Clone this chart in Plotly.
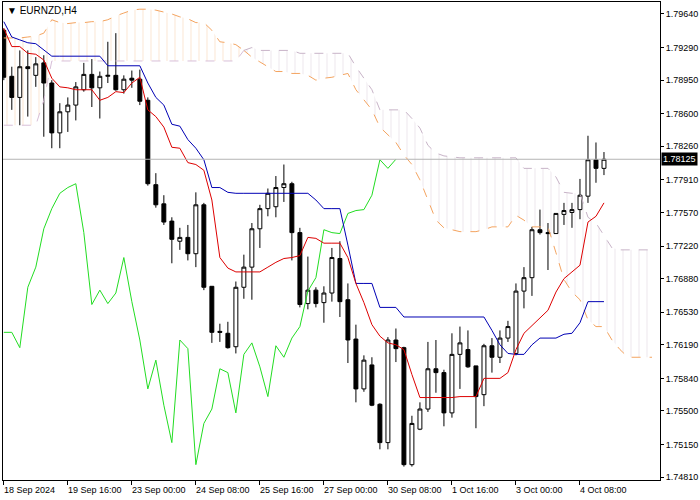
import plotly.graph_objects as go

# H4 bars, oldest first (bar index on x)
opens = [1.7947, 1.7899, 1.7877, 1.7909, 1.7900, 1.7913, 1.7892, 1.7840, 1.7862, 1.7869,
         1.7885, 1.7901, 1.7887, 1.7899, 1.7900, 1.7885, 1.7897, 1.7896, 1.7874, 1.7786,
         1.7766, 1.7748, 1.7727, 1.7731, 1.7714, 1.7765, 1.7680, 1.7633, 1.7631, 1.7617,
         1.7679, 1.7700, 1.7740, 1.7761, 1.7763, 1.7783, 1.7787, 1.7736, 1.7662, 1.7676,
         1.7663, 1.7673, 1.7709, 1.7666, 1.7625, 1.7573, 1.7598, 1.7557, 1.7517, 1.7624,
         1.7616, 1.7494, 1.7531, 1.7552, 1.7594, 1.7590, 1.7548, 1.7609, 1.7614, 1.7597,
         1.7567, 1.7618, 1.7606, 1.7626, 1.7610, 1.7675, 1.7689, 1.7739, 1.7736, 1.7735,
         1.7755, 1.7757, 1.7760, 1.7774, 1.7812, 1.7803]
highs = [1.7949, 1.7909, 1.7926, 1.7926, 1.7919, 1.7921, 1.7895, 1.7871, 1.7877, 1.7893,
         1.7913, 1.7917, 1.7904, 1.7935, 1.7944, 1.7900, 1.7905, 1.7906, 1.7877, 1.7798,
         1.7775, 1.7752, 1.7741, 1.7744, 1.7778, 1.7767, 1.7680, 1.7641, 1.7643, 1.7685,
         1.7713, 1.7746, 1.7765, 1.7782, 1.7795, 1.7807, 1.7789, 1.7741, 1.7711, 1.7679,
         1.7680, 1.7720, 1.7727, 1.7683, 1.7640, 1.7608, 1.7606, 1.7558, 1.7627, 1.7636,
         1.7617, 1.7545, 1.7559, 1.7622, 1.7624, 1.7593, 1.7631, 1.7638, 1.7634, 1.7597,
         1.7620, 1.7626, 1.7634, 1.7644, 1.7683, 1.7700, 1.7742, 1.7760, 1.7746, 1.7756,
         1.7767, 1.7767, 1.7792, 1.7837, 1.7830, 1.7820]
lows = [1.7895, 1.7864, 1.7848, 1.7857, 1.7888, 1.7836, 1.7824, 1.7824, 1.7841, 1.7853,
        1.7883, 1.7867, 1.7855, 1.7892, 1.7884, 1.7881, 1.7887, 1.7869, 1.7785, 1.7762,
        1.7744, 1.7704, 1.7718, 1.7707, 1.7700, 1.7676, 1.7621, 1.7622, 1.7615, 1.7610,
        1.7667, 1.7666, 1.7720, 1.7753, 1.7752, 1.7768, 1.7707, 1.7658, 1.7656, 1.7658,
        1.7642, 1.7664, 1.7648, 1.7600, 1.7559, 1.7570, 1.7555, 1.7510, 1.7510, 1.7601,
        1.7492, 1.7492, 1.7530, 1.7549, 1.7569, 1.7534, 1.7543, 1.7573, 1.7595, 1.7532,
        1.7555, 1.7590, 1.7600, 1.7622, 1.7608, 1.7657, 1.7670, 1.7734, 1.7697, 1.7735,
        1.7744, 1.7741, 1.7750, 1.7767, 1.7788, 1.7796]
closes = [1.7898, 1.7877, 1.7909, 1.7907, 1.7912, 1.7892, 1.7840, 1.7862, 1.7869, 1.7888,
          1.7901, 1.7887, 1.7899, 1.7900, 1.7885, 1.7896, 1.7895, 1.7873, 1.7787, 1.7765,
          1.7747, 1.7729, 1.7731, 1.7714, 1.7765, 1.7679, 1.7632, 1.7632, 1.7616, 1.7679,
          1.7700, 1.7740, 1.7761, 1.7777, 1.7783, 1.7787, 1.7736, 1.7661, 1.7676, 1.7662,
          1.7673, 1.7710, 1.7664, 1.7624, 1.7573, 1.7603, 1.7556, 1.7517, 1.7624, 1.7615,
          1.7494, 1.7537, 1.7552, 1.7594, 1.7590, 1.7548, 1.7609, 1.7621, 1.7596, 1.7565,
          1.7618, 1.7606, 1.7626, 1.7638, 1.7675, 1.7689, 1.7739, 1.7736, 1.7735, 1.7756,
          1.7759, 1.7760, 1.7775, 1.7812, 1.7803, 1.78125]

tenkan = [1.7949, 1.7930, 1.7930, 1.7923, 1.7922, 1.7916, 1.7897, 1.7888, 1.7887, 1.7885,
          1.7885, 1.7885, 1.7874, 1.7877, 1.7883, 1.7882, 1.7892, 1.7898, 1.7864, 1.7857,
          1.7846, 1.7825, 1.7824, 1.7809, 1.7807, 1.7801, 1.7770, 1.7710, 1.7699, 1.7695,
          1.7695, 1.7695, 1.7695, 1.7700, 1.7705, 1.7709, 1.7710, 1.7712, 1.7731, 1.7730,
          1.7725, 1.7725, 1.7725, 1.7710, 1.7683, 1.7663, 1.7640, 1.7628, 1.7621, 1.7619,
          1.7614, 1.7588, 1.7564, 1.7564, 1.7564, 1.7564, 1.7564, 1.7565, 1.7565, 1.7565,
          1.7584, 1.7584, 1.7584, 1.7590, 1.7614, 1.7631, 1.7639, 1.7647, 1.7655, 1.7674,
          1.7688, 1.7695, 1.7702, 1.7747, 1.7753, 1.7767]
kijun = [1.7956, 1.7940, 1.7937, 1.7934, 1.7933, 1.7926, 1.7920, 1.7920, 1.7920, 1.7920,
         1.7920, 1.7920, 1.7920, 1.7910, 1.7910, 1.7910, 1.7910, 1.7910, 1.7892, 1.7877,
         1.7869, 1.7849, 1.7847, 1.7833, 1.7824, 1.7812, 1.7783, 1.7783, 1.7778, 1.7777,
         1.7777, 1.7777, 1.7777, 1.7777, 1.7777, 1.7777, 1.7777, 1.7777, 1.7777, 1.7770,
         1.7761, 1.7761, 1.7761, 1.7723, 1.7683, 1.7683, 1.7683, 1.7658, 1.7658, 1.7658,
         1.7648, 1.7648, 1.7648, 1.7648, 1.7648, 1.7648, 1.7648, 1.7648, 1.7648, 1.7648,
         1.7648, 1.7634, 1.7619, 1.7610, 1.7609, 1.7609, 1.7619, 1.7626, 1.7626, 1.7626,
         1.7630, 1.7631, 1.7642, 1.7664, 1.7664, 1.7664]
span_a = [1.7939, 1.7939, 1.7939, 1.7940, 1.7941, 1.7944, 1.7958, 1.7955, 1.7954, 1.7955,
          1.7955, 1.7956, 1.7956, 1.7958, 1.7962, 1.7965, 1.7968, 1.7969, 1.7969, 1.7968,
          1.7966, 1.7964, 1.7961, 1.7959, 1.7955, 1.7955, 1.7947, 1.7935, 1.7934, 1.7932,
          1.7926, 1.7919, 1.7914, 1.7909, 1.7904, 1.7904, 1.7902, 1.7902, 1.7900, 1.7895,
          1.7897, 1.7898, 1.7900, 1.7902, 1.7885, 1.7874, 1.7864, 1.7846, 1.7838, 1.7830,
          1.7817, 1.7807, 1.7791, 1.7770, 1.7749, 1.7741, 1.7739, 1.7737, 1.7737, 1.7737,
          1.7739, 1.7742, 1.7742, 1.7742, 1.7754, 1.7749, 1.7742, 1.7742, 1.7742, 1.7715,
          1.7687, 1.7674, 1.7666, 1.7645, 1.7638, 1.7638, 1.7624, 1.7614, 1.7606, 1.7606,
          1.7606, 1.7606]
span_b = [1.7848, 1.7848, 1.7848, 1.7848, 1.7848, 1.7874, 1.7915, 1.7915, 1.7915, 1.7915,
          1.7915, 1.7915, 1.7915, 1.7915, 1.7915, 1.7915, 1.7915, 1.7915, 1.7915, 1.7915,
          1.7915, 1.7915, 1.7915, 1.7915, 1.7915, 1.7915, 1.7915, 1.7915, 1.7915, 1.7915,
          1.7926, 1.7929, 1.7926, 1.7926, 1.7926, 1.7926, 1.7926, 1.7923, 1.7923, 1.7923,
          1.7923, 1.7923, 1.7923, 1.7923, 1.7909, 1.7897, 1.7885, 1.7864, 1.7864, 1.7864,
          1.7864, 1.7855, 1.7845, 1.7827, 1.7819, 1.7816, 1.7815, 1.7814, 1.7814, 1.7814,
          1.7814, 1.7814, 1.7814, 1.7814, 1.7814, 1.7803, 1.7803, 1.7803, 1.7803, 1.7794,
          1.7778, 1.7777, 1.7777, 1.7752, 1.7746, 1.7733, 1.7720, 1.7718, 1.7718, 1.7718,
          1.7718, 1.7718]

date_labels = ["18 Sep 2024", "19 Sep 16:00", "23 Sep 00:00", "24 Sep 08:00", "25 Sep 16:00",
               "27 Sep 00:00", "30 Sep 08:00", "1 Oct 16:00", "3 Oct 00:00", "4 Oct 08:00"]
price_ticks = [1.74810, 1.75150, 1.75500, 1.75840, 1.76190, 1.76530, 1.76880, 1.77220,
               1.77570, 1.77910, 1.78260, 1.78600, 1.78950, 1.79290, 1.79640]
last_price = closes[-1]

bars = list(range(len(closes)))
cloud_x = list(range(len(span_a)))
chikou = closes[26:]
cross = 30  # spans cross here

fig = go.Figure()

# cloud: orange part (A above B), then grey part (B above A)
fig.add_trace(go.Scatter(x=cloud_x[:cross + 1], y=span_b[:cross + 1], mode="lines",
                         line=dict(color="#d8bfd8", width=1, dash="dash")))
fig.add_trace(go.Scatter(x=cloud_x[:cross + 1], y=span_a[:cross + 1], mode="lines",
                         line=dict(color="#f4a460", width=1, dash="dash"), fill="tonexty",
                         fillcolor="rgba(0,0,0,0)",
                         fillpattern=dict(shape="|", fgcolor="#f6c08f", bgcolor="rgba(0,0,0,0)",
                                          size=8, solidity=0.1)))
fig.add_trace(go.Scatter(x=cloud_x[cross:], y=span_a[cross:], mode="lines",
                         line=dict(color="#f4a460", width=1, dash="dash")))
fig.add_trace(go.Scatter(x=cloud_x[cross:], y=span_b[cross:], mode="lines",
                         line=dict(color="#c8b4c8", width=1, dash="dash"), fill="tonexty",
                         fillcolor="rgba(0,0,0,0)",
                         fillpattern=dict(shape="|", fgcolor="#d0c4d0", bgcolor="rgba(0,0,0,0)",
                                          size=8, solidity=0.1)))

fig.add_trace(go.Scatter(x=bars[:len(chikou)], y=chikou, mode="lines",
                         line=dict(color="#22dd22", width=1)))
fig.add_trace(go.Scatter(x=bars, y=kijun, mode="lines", line=dict(color="#0000b4", width=1)))
fig.add_trace(go.Scatter(x=bars, y=tenkan, mode="lines", line=dict(color="#dd0000", width=1)))

fig.add_trace(go.Candlestick(
    x=bars, open=opens, high=highs, low=lows, close=closes, whiskerwidth=0,
    increasing=dict(fillcolor="white", line=dict(color="black", width=1)),
    decreasing=dict(fillcolor="black", line=dict(color="black", width=1))))

fig.add_hline(y=last_price, line=dict(color="#b4b4b4", width=1))

for i, lab in enumerate(date_labels):
    fig.add_annotation(x=i * 8, y=0, yref="paper", yanchor="top", xanchor="left",
                       text=lab, showarrow=False, xshift=-2, yshift=-3,
                       font=dict(size=9, color="black"))

fig.add_annotation(x=1, xref="paper", y=last_price, xanchor="left", text=f"{last_price:.5f}",
                   showarrow=False, bgcolor="black", font=dict(color="white", size=9),
                   xshift=1, borderpad=1)
fig.add_annotation(x=0, xref="paper", y=1, yref="paper", xanchor="left", yanchor="top",
                   text="▼ EURNZD,H4", showarrow=False, xshift=2, yshift=-1,
                   font=dict(size=10, color="black"))

fig.update_layout(
    width=700, height=500, showlegend=False, plot_bgcolor="white", paper_bgcolor="white",
    margin=dict(l=3, r=40, t=2, b=20),
    font=dict(family="Liberation Sans, Arial, sans-serif", size=9, color="black"),
    xaxis=dict(range=[-0.1, 82], showgrid=False, zeroline=False, rangeslider=dict(visible=False),
               tickvals=[i * 8 for i in range(len(date_labels))], ticktext=[""] * len(date_labels),
               ticks="outside", ticklen=4, tickcolor="black", showline=True, linecolor="black",
               mirror=True),
    yaxis=dict(range=[1.74780, 1.79765], side="right", showgrid=False, zeroline=False,
               tickvals=price_ticks, ticktext=[f"{p:.5f}" for p in price_ticks],
               ticks="outside", ticklen=3, tickcolor="black", showline=True, linecolor="black",
               mirror=True, tickfont=dict(size=9)),
)

# drop the page's default body margin so the 700x500 figure fills the window
fig.write_html("out.html", config={"displayModeBar": False},
               post_script="document.body.style.margin='0';")
